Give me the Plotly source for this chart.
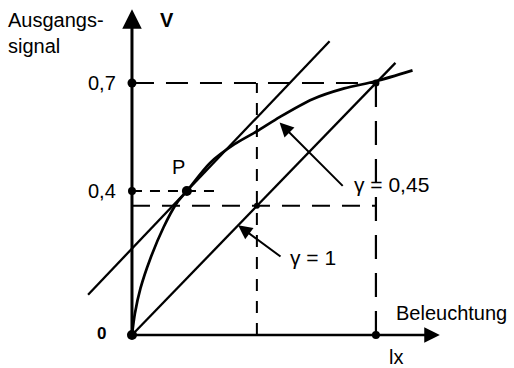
import plotly.graph_objects as go

# Normalised illumination (lx = 1) and output signal V
curve_x = [0.0, 0.012, 0.035, 0.074, 0.13, 0.184, 0.225, 0.32, 0.42, 0.512, 0.607, 0.74, 0.87, 1.0, 1.15]
curve_v = [0.0, 0.06, 0.13, 0.21, 0.30, 0.367, 0.40, 0.478, 0.53, 0.566, 0.606, 0.655, 0.685, 0.705, 0.735]

linear_x = [0.0, 1.08]
linear_v = [0.0, 0.756]

tangent_x = [-0.18, 0.81]
tangent_v = [0.112, 0.816]

point_p = (0.225, 0.40)
mid_x = 0.512
mid_v = 0.359
v_ticks = [0.4, 0.7]
v_tick_labels = ["0,4", "0,7"]
lx_value = 1.0

INK = "#000000"
FONT = "Liberation Sans, Arial, sans-serif"

fig = go.Figure()

def add_line(xs, ys, width=2.4, dash=None, shape="linear"):
    fig.add_trace(go.Scatter(
        x=xs, y=ys, mode="lines",
        line=dict(color=INK, width=width, dash=dash, shape=shape, smoothing=0.8),
        hoverinfo="skip", showlegend=False))

# dashed guide lines
add_line([0, lx_value], [0.7, 0.7], 2.0, "22px,12px")
add_line([lx_value, lx_value], [0.7, 0], 2.2, "24px,14px")
add_line([0, 0.34], [0.4, 0.4], 2.0, "10px,8px")
add_line([0, lx_value], [mid_v, mid_v], 2.0, "18px,12px")
add_line([mid_x, mid_x], [0, 0.7], 2.0, "12px,10px")

# characteristic lines
add_line(curve_x, curve_v, 2.7, None, "spline")
add_line(linear_x, linear_v, 2.3)
add_line(tangent_x, tangent_v, 2.3)

# marked points
fig.add_trace(go.Scatter(
    x=[0, 0, 0, lx_value, point_p[0], lx_value, mid_x],
    y=[0, v_ticks[0], v_ticks[1], 0, point_p[1], 0.7, mid_v],
    mode="markers", opacity=1,
    marker=dict(color=INK, opacity=1, size=[10, 8, 9, 8, 10, 7, 6], line=dict(color=INK, width=0)),
    hoverinfo="skip", showlegend=False))

# axes with arrowheads
fig.add_annotation(x=0, y=0.905, ax=0, ay=0, xref="x", yref="y", axref="x", ayref="y",
                   showarrow=True, arrowhead=2, arrowsize=1.3, arrowwidth=3, arrowcolor=INK, text="")
fig.add_annotation(x=1.262, y=0, ax=0, ay=0, xref="x", yref="y", axref="x", ayref="y",
                   showarrow=True, arrowhead=2, arrowsize=1.3, arrowwidth=2.4, arrowcolor=INK, text="")

# leader arrows to the curves
fig.add_annotation(x=0.605, y=0.59, ax=0.87, ay=0.41, xref="x", yref="y", axref="x", ayref="y",
                   showarrow=True, arrowhead=2, arrowsize=1.4, arrowwidth=2, arrowcolor=INK, text="")
fig.add_annotation(x=0.435, y=0.305, ax=0.615, ay=0.215, xref="x", yref="y", axref="x", ayref="y",
                   showarrow=True, arrowhead=2, arrowsize=1.4, arrowwidth=2, arrowcolor=INK, text="")

def label(x, y, text, xanchor="left", size=20, bold=False):
    fig.add_annotation(x=x, y=y, xref="x", yref="y", text=f"<b>{text}</b>" if bold else text,
                       showarrow=False, xanchor=xanchor, yanchor="middle", align="left",
                       font=dict(family=FONT, size=size, color=INK))

label(-0.515, 0.839, "Ausgangs-<br>signal", size=20)
label(0.105, 0.875, "V", bold=True, size=20)
for v, t in zip(v_ticks, v_tick_labels):
    label(-0.058, v, t, xanchor="right", size=20)
label(-0.10, 0.005, "0", xanchor="right", bold=True, size=17)
label(0.19, 0.466, "P", xanchor="center", size=20)
label(0.90, 0.417, "γ = 0,45", size=21)
label(0.64, 0.214, "γ = 1", size=21)
label(1.075, 0.061, "Beleuchtung", size=20)
label(1.045, -0.061, "lx", size=20)

fig.update_layout(
    width=514, height=368,
    margin=dict(l=0, r=0, t=0, b=0),
    paper_bgcolor="white", plot_bgcolor="white",
    xaxis=dict(range=[-0.541, 1.566], visible=False, fixedrange=True),
    yaxis=dict(range=[-0.0917, 0.9306], visible=False, fixedrange=True),
)

fig.write_html("out.html")
